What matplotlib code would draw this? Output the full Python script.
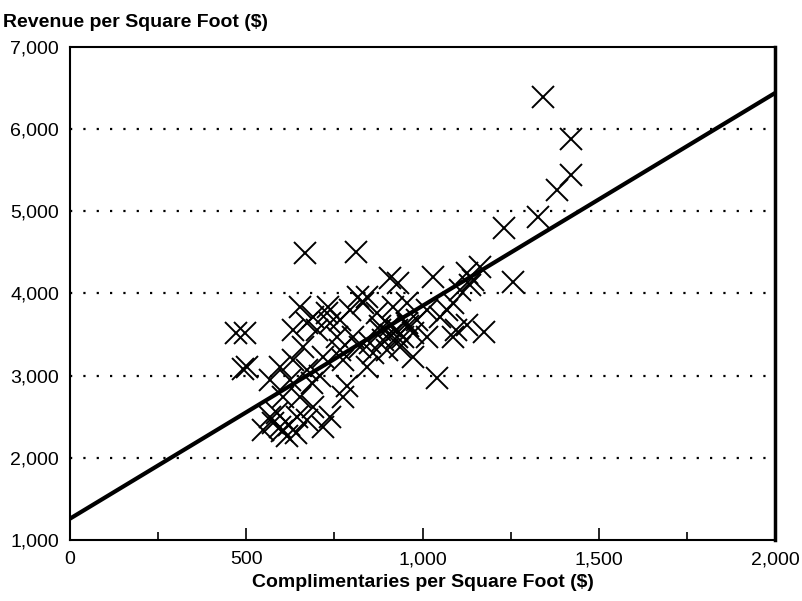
import matplotlib.pyplot as plt

# complimentaries per square foot ($)
comp = [470, 495, 490, 502, 652, 732, 817, 831, 908, 930, 1030, 1126, 1069, 1087,
        1041, 633, 671, 700, 738, 766, 803, 871, 889, 927, 955, 974, 1013, 860,
        899, 843, 766, 718, 633, 596, 567, 671, 709, 785, 775, 604, 652, 690,
        738, 567, 596, 548, 615, 671, 643, 718, 587, 576, 624, 686, 794, 843,
        916, 955, 984, 1013, 1050, 1087, 1106, 1143, 936, 974, 823, 757, 661,
        729, 690, 775, 908, 879, 927, 945, 667, 811, 1342, 1421, 1421, 1382,
        1328, 1231, 1257, 1174, 1135, 1163, 1095, 1125,
        880, 910, 960, 850, 620, 600, 640]
# revenue per square foot ($)
revenue = [3520, 3520, 3080, 3100, 3840, 3840, 3960, 3890, 4190, 4130, 4200, 4250, 3800, 3470,
           2970, 3560, 3640, 3560, 3640, 3680, 3470, 3760, 3430, 3470, 3640, 3520, 3470, 3280,
           3310, 3110, 3310, 3230, 3190, 3110, 2950, 3070, 2990, 2870, 2740, 2740, 2740, 2620,
           2500, 2500, 2380, 2340, 2260, 2460, 2500, 2380, 2550, 2420, 2950, 2910, 3800, 3960,
           3840, 3890, 3680, 3800, 3720, 3890, 4040, 4170, 3350, 3230, 3350, 3470, 3350,
           3760, 3720, 3190, 3600, 3600, 3560, 3470, 4490, 4500, 6390, 5880, 5440, 5260,
           4930, 4800, 4140, 3530, 4100, 4320, 3560, 3620,
           3550, 3500, 3600, 3400, 2400, 2330, 2300]

# fitted regression line end points
line_x = [0, 2000]
line_y = [1260, 6440]

x_ticks = [0, 500, 1000, 1500, 2000]
y_ticks = [1000, 2000, 3000, 4000, 5000, 6000, 7000]
grid_y = [2000, 3000, 4000, 5000, 6000]

plt.rcParams['font.family'] = ['Liberation Sans', 'DejaVu Sans']

fig = plt.figure(figsize=(8.03, 6.01), dpi=100)
ax = fig.add_axes([0.0872, 0.1015, 0.878, 0.8203])

for g in grid_y:
    ax.axhline(g, color='black', linestyle=(0, (1, 5)), linewidth=1.6, zorder=1)

ax.plot(comp, revenue, linestyle='none', marker='x', markersize=16,
        markeredgewidth=1.4, color='black', zorder=2)
ax.plot(line_x, line_y, color='black', linewidth=3, zorder=3)

ax.set_xlim(0, 2000)
ax.set_ylim(1000, 7000)
ax.set_xticks(x_ticks)
ax.set_xticklabels(['{:,}'.format(t) for t in x_ticks])
ax.set_xticks([250, 750, 1250, 1750], minor=True)
ax.set_yticks(y_ticks)
ax.set_yticklabels(['{:,}'.format(t) for t in y_ticks])

ax.tick_params(axis='x', which='major', direction='in', length=9, width=1.2,
               labelsize=14, pad=8)
ax.tick_params(axis='x', which='minor', direction='in', length=6, width=1.2)
ax.tick_params(axis='y', length=0, labelsize=14, pad=8)

for side in ['left', 'bottom', 'top']:
    ax.spines[side].set_linewidth(1.5)
ax.spines['right'].set_linewidth(2.5)

ax.set_xlabel('Complimentaries per Square Foot ($)', fontsize=14,
              fontweight='bold', labelpad=4)
fig.text(0.004, 0.962, 'Revenue per Square Foot ($)', fontsize=14,
         fontweight='bold', ha='left', va='center')

fig.savefig('out.png', dpi=100)
